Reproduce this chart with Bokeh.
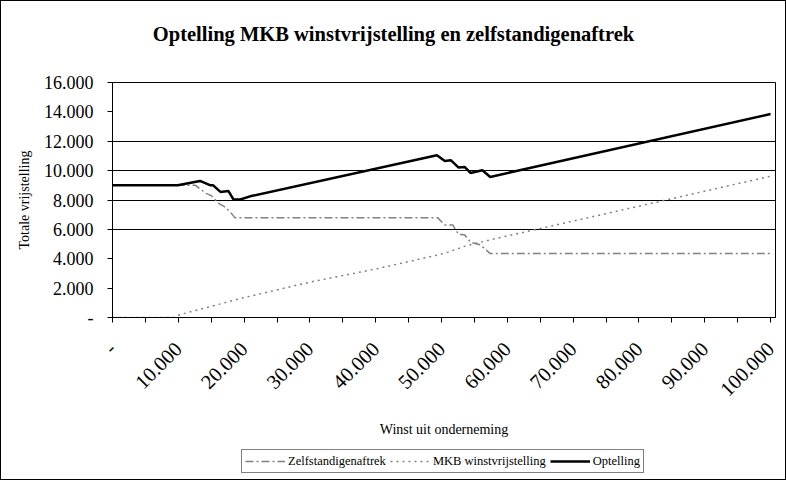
import math
from bokeh.plotting import figure
from bokeh.layouts import column
from bokeh.models import FixedTicker, Legend, LegendItem, Range1d, Label
from bokeh.embed import file_html
from bokeh.resources import INLINE

# ---- data ----
zelf_x = [0, 12600, 14200, 15000, 16200, 17000, 17900, 18600, 49400, 50500, 51700,
          52600, 53500, 54400, 55900, 57400, 100000]
zelf_y = [9000, 9000, 8450, 8300, 7750, 7550, 7180, 6800, 6800, 6300, 6300,
          5650, 5630, 5130, 4950, 4350, 4350]

mkb_x = [0, 9300, 10300, 14900, 19900, 30000, 40200, 49400, 51000, 53600, 57400, 80000, 100000]
mkb_y = [0, 0, 200, 750, 1340, 2410, 3320, 4250, 4450, 4860, 5290, 7580, 9620]

opt_x = [0, 9900, 13300, 14900, 15300, 16400, 17600, 18400, 19400, 20900, 49300, 50500,
         51400, 52600, 53500, 54400, 56200, 57400, 61200, 100000]
opt_y = [9000, 9000, 9300, 9000, 9000, 8550, 8615, 8030, 8030, 8250, 11050, 10660,
         10710, 10210, 10250, 9840, 10030, 9570, 9960, 13850]

x_ticks = [0, 10000, 20000, 30000, 40000, 50000, 60000, 70000, 80000, 90000, 100000]
x_tick_labels = ["-", "10.000", "20.000", "30.000", "40.000", "50.000", "60.000",
                 "70.000", "80.000", "90.000", "100.000"]
x_minor_ticks = [5000, 15000, 25000, 35000, 45000, 55000, 65000, 75000, 85000, 95000]

y_ticks = [0, 2000, 4000, 6000, 8000, 10000, 12000, 14000, 16000]
y_tick_labels = ["-", "2.000", "4.000", "6.000", "8.000", "10.000", "12.000", "14.000", "16.000"]
grid_values = [6000, 8000, 10000, 12000]

series_names = ["Zelfstandigenaftrek", "MKB winstvrijstelling", "Optelling"]
chart_title = "Optelling MKB winstvrijstelling en zelfstandigenaftrek"

SERIF = "Liberation Serif"
W = 784
TOP_H, MAIN_H, LEG_H = 60, 384, 34

series_styles = [dict(line_color="#808080", line_width=1.5, line_dash="8 3 2 3"),
                 dict(line_color="#808080", line_width=1.5, line_dash="2 4"),
                 dict(line_color="black", line_width=2.5)]


def no_frame_align(fig):
    if "frame_align" in fig.properties():
        fig.frame_align = False


# ---------- title strip ----------
tp = figure(width=W, height=TOP_H, output_backend="svg", toolbar_location=None,
            x_range=Range1d(0, W), y_range=Range1d(0, TOP_H),
            x_axis_type=None, y_axis_type=None, min_border=0)
no_frame_align(tp)
tp.outline_line_color = None
tp.background_fill_color = "white"
tp.border_fill_color = "white"
tp.add_layout(Label(x=392, y=28, text=chart_title, text_align="center",
                    text_baseline="middle", text_font=SERIF, text_font_size="20.5px",
                    text_font_style="bold", text_color="black"))

# ---------- main chart ----------
p = figure(width=W, height=MAIN_H, output_backend="svg", toolbar_location=None,
           x_range=Range1d(0, 100750), y_range=Range1d(0, 16000),
           min_border_left=111, min_border_right=10, min_border_top=21, min_border_bottom=128)
no_frame_align(p)
p.background_fill_color = "white"
p.border_fill_color = "white"
p.outline_line_color = "black"
p.outline_line_width = 1
p.title.text = ""

p.xgrid.visible = False
p.ygrid.ticker = FixedTicker(ticks=grid_values)
p.ygrid.grid_line_color = "black"
p.ygrid.grid_line_width = 1

xa = p.xaxis[0]
xa.ticker = FixedTicker(ticks=x_ticks, minor_ticks=x_minor_ticks)
xa.major_label_overrides = {t: l for t, l in zip(x_ticks, x_tick_labels)}
xa.major_label_orientation = math.pi / 4
xa.major_label_text_font = SERIF
xa.major_label_text_font_size = "20.5px"
xa.major_label_text_color = "black"
xa.major_label_standoff = 23
xa.major_tick_out = 5
xa.major_tick_in = 0
xa.minor_tick_out = 5
xa.minor_tick_in = 0
xa.minor_tick_line_color = "black"
xa.axis_line_color = "black"
xa.major_tick_line_color = "black"
xa.axis_label = "Winst uit onderneming"
xa.axis_label_text_font = SERIF
xa.axis_label_text_font_size = "14px"
xa.axis_label_text_font_style = "normal"
xa.axis_label_text_color = "black"
xa.axis_label_standoff = 16

ya = p.yaxis[0]
ya.ticker = FixedTicker(ticks=y_ticks)
ya.major_label_overrides = {t: l for t, l in zip(y_ticks, y_tick_labels)}
ya.major_label_text_font = SERIF
ya.major_label_text_font_size = "18px"
ya.major_label_text_color = "black"
ya.major_label_standoff = 14
ya.major_tick_out = 5
ya.major_tick_in = 0
ya.minor_tick_line_color = None
ya.axis_line_color = "black"
ya.major_tick_line_color = "black"
ya.axis_label = "Totale vrijstelling"
ya.axis_label_text_font = SERIF
ya.axis_label_text_font_size = "14px"
ya.axis_label_text_font_style = "normal"
ya.axis_label_text_color = "black"
ya.axis_label_standoff = 9

p.line(zelf_x, zelf_y, **series_styles[0])
p.line(mkb_x, mkb_y, **series_styles[1])
p.line(opt_x, opt_y, **series_styles[2])

# ---------- legend strip ----------
# The same series are drawn here only to provide legend glyphs; the ranges keep them out of view.
lp = figure(width=W, height=LEG_H, output_backend="svg", toolbar_location=None,
            x_range=Range1d(-2, -1), y_range=Range1d(-2, -1),
            x_axis_type=None, y_axis_type=None, min_border=0)
no_frame_align(lp)
lp.outline_line_color = None
lp.background_fill_color = "white"
lp.border_fill_color = "white"
leg_renderers = [lp.line(xs, ys, **st) for xs, ys, st in
                 zip([zelf_x, mkb_x, opt_x], [zelf_y, mkb_y, opt_y], series_styles)]
legend = Legend(items=[LegendItem(label=n, renderers=[r]) for n, r in zip(series_names, leg_renderers)],
                orientation="horizontal", location=(240, 6))
legend.label_text_font = SERIF
legend.label_text_font_size = "12.5px"
legend.label_text_color = "black"
legend.border_line_color = "black"
legend.border_line_width = 1
legend.background_fill_color = "white"
legend.background_fill_alpha = 1
legend.padding = 3
legend.margin = 0
legend.spacing = 4
legend.label_standoff = 3
legend.glyph_width = 40
legend.glyph_height = 16
legend.label_height = 16
lp.add_layout(legend, "center")

layout = column(tp, p, lp, styles={"border": "1px solid black"})
open("out.html", "w").write(file_html(layout, INLINE))
